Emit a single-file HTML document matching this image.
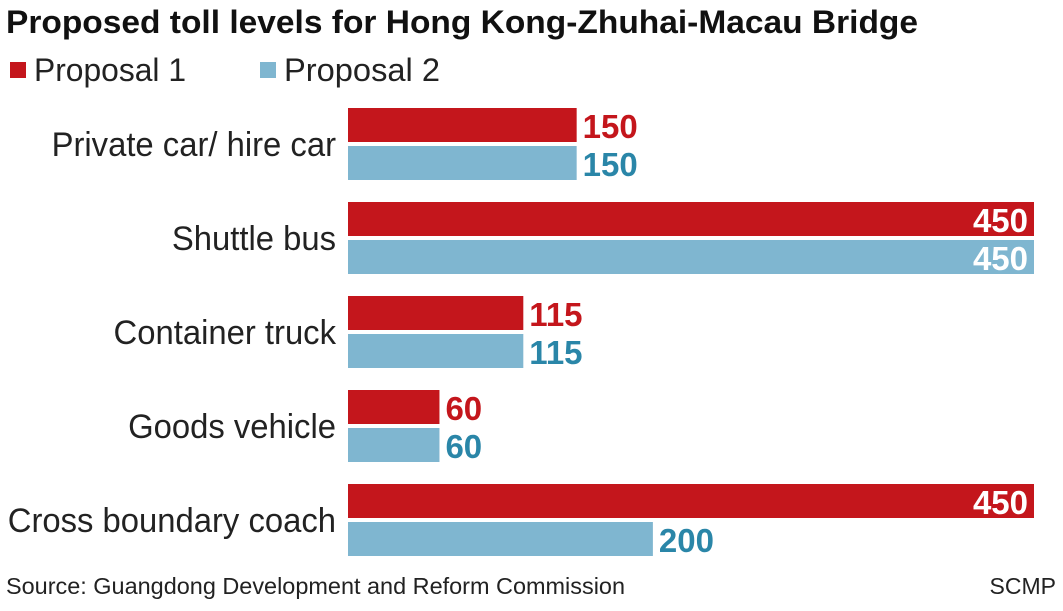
<!DOCTYPE html>
<html><head><meta charset="utf-8"><style>
body{margin:0;width:1063px;height:606px;background:#fff;overflow:hidden;font-family:"Liberation Sans Narrow","Liberation Sans",sans-serif;}
svg text{font-family:"Liberation Sans Narrow","Liberation Sans",sans-serif;}
</style></head><body>
<svg id="chart" width="1063" height="606">
<text x="6" y="33" font-size="32" font-weight="bold" fill="#111" textLength="912" lengthAdjust="spacingAndGlyphs">Proposed toll levels for Hong Kong-Zhuhai-Macau Bridge</text>
<g>
<rect x="10" y="62" width="16" height="16" fill="#c4161c"/>
<text x="34" y="81" font-size="32" fill="#222" textLength="152" lengthAdjust="spacingAndGlyphs">Proposal 1</text>
<rect x="260" y="62" width="16" height="16" fill="#7fb6d0"/>
<text x="284" y="81" font-size="32" fill="#222" textLength="156" lengthAdjust="spacingAndGlyphs">Proposal 2</text>
</g>
<g id="bars"></g>
<text x="6" y="594" font-size="23" fill="#222" textLength="619" lengthAdjust="spacingAndGlyphs">Source: Guangdong Development and Reform Commission</text>
<text x="1056" y="594" font-size="23" fill="#222" text-anchor="end">SCMP</text>
</svg>
<script>
const categories=["Private car/ hire car","Shuttle bus","Container truck","Goods vehicle","Cross boundary coach"];
const proposal1=[150,450,115,60,450];
const proposal2=[150,450,115,60,200];
const maxVal=450;
const x0=348,x1=1034;
function xs(v){return x0+(v/maxVal)*(x1-x0);}
function yGroup(i){return 108+i*94;}
const g=document.getElementById('bars');
const NS="http://www.w3.org/2000/svg";
function bar(v,y,fill,txtFill,name){
  const r=document.createElementNS(NS,'rect');
  r.setAttribute('x',x0);r.setAttribute('y',y);r.setAttribute('width',xs(v)-x0);r.setAttribute('height',34);r.setAttribute('fill',fill);
  
  
  g.appendChild(r);
  const t=document.createElementNS(NS,'text');
  const inside=xs(v)>x1-80;
  t.setAttribute('x',inside?xs(v)-6:xs(v)+6);t.setAttribute('y',y+30);
  t.setAttribute('text-anchor',inside?'end':'start');
  t.setAttribute('font-size','33');t.setAttribute('font-weight','bold');
  t.setAttribute('fill',inside?'#fff':txtFill);
  t.textContent=v;
  
  
  g.appendChild(t);
}
categories.forEach((c,i)=>{
  const y=yGroup(i);
  const l=document.createElementNS(NS,'text');
  l.setAttribute('x',0);l.setAttribute('y',0);l.setAttribute('text-anchor','end');
  l.setAttribute('transform','translate(336,'+(y+48)+') scale(0.965,1)');
  l.setAttribute('font-size','34');l.setAttribute('fill','#222');l.textContent=c;
  
  
  g.appendChild(l);
  bar(proposal1[i],y,'#c4161c','#c4161c','bar-proposal-1');
  bar(proposal2[i],y+38,'#7fb6d0','#2a86a8','bar-proposal-2');
});
</script>
</body></html>
